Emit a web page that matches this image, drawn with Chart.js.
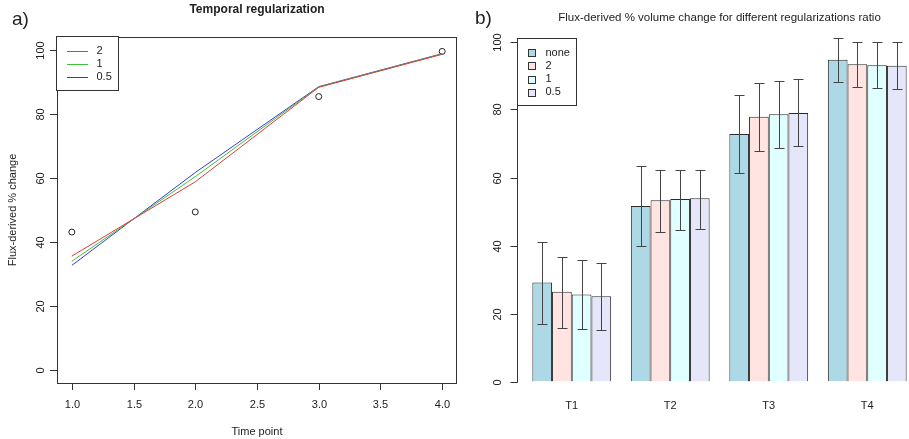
<!DOCTYPE html>
<html>
<head>
<meta charset="utf-8">
<script src="https://cdn.jsdelivr.net/npm/chart.js@4.4.0/dist/chart.umd.min.js"></script>
<style>
  html, body { margin: 0; padding: 0; background: #fff; overflow: hidden; width: 909px; height: 439px; }
  #wrapA { position: absolute; left: 0; top: 0; width: 462px; height: 439px; }
  #wrapB { position: absolute; left: 462px; top: 0; width: 460px; height: 439px; }
</style>
</head>
<body>
<div id="wrapA"><canvas id="chartA" width="462" height="439"></canvas></div>
<div id="wrapB"><canvas id="chartB" width="460" height="439"></canvas></div>
<script>
// ---------- Panel a) data ----------
const timePoints = [1, 2, 3, 4];
const observed = [43.1, 49.4, 85.4, 99.5];
const reg2 = [35.6, 58.8, 88.3, 98.6];
const reg1 = [34.0, 60.4, 88.4, 98.7];
const reg05 = [32.7, 61.7, 88.5, 98.8];
const leftXTicks = [1, 1.5, 2, 2.5, 3, 3.5, 4];
const leftXTickLabels = ['1.0', '1.5', '2.0', '2.5', '3.0', '3.5', '4.0'];
const leftYTicks = [0, 20, 40, 60, 80, 100];
const leftLegend = ['2', '1', '0.5'];

// ---------- Panel b) data ----------
const categories = ['T1', 'T2', 'T3', 'T4'];
const seriesNames = ['none', '2', '1', '0.5'];
const volNone = [29.1, 51.6, 72.8, 94.6];
const vol2 = [26.4, 53.3, 77.9, 93.3];
const vol1 = [25.6, 53.7, 78.6, 93.0];
const vol05 = [25.1, 53.9, 79.0, 92.9];
const lowNone = [16.9, 40.0, 61.3, 88.2];
const highNone = [40.9, 63.4, 84.3, 100.9];
const low2 = [15.8, 44.0, 67.9, 86.6];
const high2 = [36.7, 62.3, 87.9, 99.8];
const low1 = [15.5, 44.5, 68.8, 86.2];
const high1 = [35.7, 62.3, 88.5, 99.8];
const low05 = [15.2, 44.9, 69.2, 86.0];
const high05 = [34.8, 62.3, 88.9, 99.8];
const rightYTicks = [0, 20, 40, 60, 80, 100];

const FONT = '"Liberation Sans", Arial, Helvetica, sans-serif';
const INK = '#222';

function pts(xs, ys) { return xs.map((x, i) => ({ x: x, y: ys[i] })); }

function rotText(ctx, text, x, y) {
  ctx.save();
  ctx.translate(x, y);
  ctx.rotate(-Math.PI / 2);
  ctx.textAlign = 'center';
  ctx.textBaseline = 'middle';
  ctx.fillText(text, 0, 0);
  ctx.restore();
}

// ---------- Chart A ----------
const lineColors = ['#e23a3a', '#3cc23c', '#3a3ad0'];
const decorA = {
  id: 'decorA',
  afterDraw(chart) {
    const ctx = chart.ctx;
    const a = chart.chartArea;
    const xs = chart.scales.x, ys = chart.scales.y;
    ctx.save();
    ctx.strokeStyle = '#333';
    ctx.lineWidth = 1;
    // box
    ctx.strokeRect(Math.round(a.left) + 0.5, Math.round(a.top) + 0.5,
                   Math.round(a.right - a.left) - 1, Math.round(a.bottom - a.top));
    ctx.fillStyle = INK;
    ctx.font = '11px ' + FONT;
    // x ticks
    ctx.textAlign = 'center';
    ctx.textBaseline = 'middle';
    leftXTicks.forEach((v, i) => {
      const px = Math.round(xs.getPixelForValue(v)) + 0.5;
      ctx.beginPath(); ctx.moveTo(px, a.bottom); ctx.lineTo(px, a.bottom + 7); ctx.stroke();
      ctx.fillText(leftXTickLabels[i], px, 405);
    });
    // y ticks
    leftYTicks.forEach(v => {
      const py = Math.round(ys.getPixelForValue(v)) + 0.5;
      ctx.beginPath(); ctx.moveTo(a.left - 7, py); ctx.lineTo(a.left, py); ctx.stroke();
      rotText(ctx, String(v), 40.5, py);
    });
    // axis titles
    ctx.font = '11px ' + FONT;
    ctx.textAlign = 'center';
    ctx.fillText('Time point', (a.left + a.right) / 2, 432);
    rotText(ctx, 'Flux-derived % change', 13, (a.top + a.bottom) / 2);
    // title
    ctx.font = 'bold 12px ' + FONT;
    ctx.textAlign = 'center';
    ctx.textBaseline = 'middle';
    ctx.fillText('Temporal regularization', (a.left + a.right) / 2, 10);
    // panel label
    ctx.font = '19px ' + FONT;
    ctx.textAlign = 'left';
    ctx.fillText('a)', 12, 20);
    // legend
    ctx.fillStyle = '#fff';
    ctx.fillRect(57, 37, 62, 54);
    ctx.strokeStyle = '#333';
    ctx.strokeRect(56.5, 36.5, 62, 54);
    ctx.font = '11px ' + FONT;
    ctx.textBaseline = 'middle';
    leftLegend.forEach((lab, i) => {
      const y = 50.5 + i * 13.3;
      ctx.strokeStyle = lineColors[i];
      ctx.beginPath(); ctx.moveTo(67, Math.round(y) + 0.5); ctx.lineTo(88, Math.round(y) + 0.5); ctx.stroke();
      ctx.fillStyle = INK;
      ctx.fillText(lab, 96.5, y);
    });
    ctx.restore();
  }
};

new Chart(document.getElementById('chartA'), {
  type: 'line',
  data: {
    datasets: [
      { label: '2', data: pts(timePoints, reg2), borderColor: lineColors[0], borderWidth: 1, pointRadius: 0, tension: 0, fill: false },
      { label: '1', data: pts(timePoints, reg1), borderColor: lineColors[1], borderWidth: 1, pointRadius: 0, tension: 0, fill: false },
      { label: '0.5', data: pts(timePoints, reg05), borderColor: lineColors[2], borderWidth: 1, pointRadius: 0, tension: 0, fill: false },
      { label: 'observed', data: pts(timePoints, observed), showLine: false, pointRadius: 3, pointStyle: 'circle',
        pointBorderColor: '#222', pointBackgroundColor: 'rgba(0,0,0,0)', pointBorderWidth: 1, borderColor: '#222' }
    ]
  },
  options: {
    responsive: false, animation: false, devicePixelRatio: 1,
    layout: { padding: { left: 57, right: 2, top: 37, bottom: 56 } },
    scales: {
      x: { type: 'linear', min: 0.88, max: 4.12, display: false },
      y: { type: 'linear', min: -4, max: 104, display: false }
    },
    plugins: { legend: { display: false }, tooltip: { enabled: false } }
  },
  plugins: [decorA]
});

// ---------- Chart B ----------
const barColors = ['#add8e6', '#ffe4e1', '#e0ffff', '#e6e6fa'];
const barValues = [volNone, vol2, vol1, vol05];
const errLow = [lowNone, low2, low1, low05];
const errHigh = [highNone, high2, high1, high05];
const OFF = 462;

const decorB = {
  id: 'decorB',
  afterDatasetsDraw(chart) {
    const ctx = chart.ctx;
    const ys = chart.scales.y;
    ctx.save();
    ctx.strokeStyle = '#444';
    ctx.lineWidth = 1;
    barValues.forEach((vals, d) => {
      const meta = chart.getDatasetMeta(d);
      meta.data.forEach((bar, i) => {
        const x = Math.round(bar.x) + 0.5;
        const yl = Math.round(ys.getPixelForValue(errLow[d][i])) + 0.5;
        const yh = Math.round(ys.getPixelForValue(errHigh[d][i])) + 0.5;
        ctx.beginPath();
        ctx.moveTo(x, yl); ctx.lineTo(x, yh);
        ctx.moveTo(x - 5, yl); ctx.lineTo(x + 5, yl);
        ctx.moveTo(x - 5, yh); ctx.lineTo(x + 5, yh);
        ctx.stroke();
      });
    });
    ctx.restore();
  },
  afterDraw(chart) {
    const ctx = chart.ctx;
    const a = chart.chartArea;
    const xs = chart.scales.x, ys = chart.scales.y;
    ctx.save();
    ctx.strokeStyle = '#333';
    ctx.lineWidth = 1;
    const axX = 517.5 - OFF;
    // y axis
    ctx.beginPath();
    ctx.moveTo(axX, Math.round(ys.getPixelForValue(0)) + 0.5);
    ctx.lineTo(axX, Math.round(ys.getPixelForValue(100)) + 0.5);
    ctx.stroke();
    ctx.fillStyle = INK;
    ctx.font = '11px ' + FONT;
    rightYTicks.forEach(v => {
      const py = Math.round(ys.getPixelForValue(v)) + 0.5;
      ctx.beginPath(); ctx.moveTo(axX - 7, py); ctx.lineTo(axX, py); ctx.stroke();
      rotText(ctx, String(v), 498 - OFF, py);
    });
    // category labels
    ctx.textAlign = 'center';
    ctx.textBaseline = 'middle';
    categories.forEach((c, i) => {
      ctx.fillText(c, xs.getPixelForValue(i), 406);
    });
    // title
    ctx.font = '11.5px ' + FONT;
    ctx.fillText('Flux-derived % volume change for different regularizations ratio', 719.5 - OFF, 18);
    ctx.font = '19px ' + FONT;
    ctx.textAlign = 'left';
    ctx.fillText('b)', 475 - OFF, 19);
    // legend
    const lx = 517.5 - OFF, ly = 38.5;
    ctx.fillStyle = '#fff';
    ctx.fillRect(lx, ly, 59, 67);
    ctx.strokeStyle = '#333';
    ctx.strokeRect(lx, ly, 59, 67);
    ctx.font = '11px ' + FONT;
    ctx.textBaseline = 'middle';
    seriesNames.forEach((n, i) => {
      const y = 52.5 + i * 13.3;
      const sy = Math.round(y - 3.5) + 0.5;
      ctx.fillStyle = barColors[i];
      ctx.fillRect(528.5 - OFF, sy, 7, 7);
      ctx.strokeStyle = '#333';
      ctx.strokeRect(528.5 - OFF, sy, 7, 7);
      ctx.fillStyle = INK;
      ctx.fillText(n, 545.5 - OFF, y);
    });
    ctx.restore();
  }
};

new Chart(document.getElementById('chartB'), {
  type: 'bar',
  data: {
    labels: categories,
    datasets: seriesNames.map((n, d) => ({
      label: n,
      data: barValues[d],
      backgroundColor: barColors[d],
      borderColor: '#2a2a2a',
      borderWidth: 1,
      categoryPercentage: 0.8,
      barPercentage: 1.0
    }))
  },
  options: {
    responsive: false, animation: false, devicePixelRatio: 1,
    layout: { padding: { left: 60.5, right: 5.5, top: 41.5, bottom: 57.5 } },
    scales: {
      x: { type: 'category', offset: true, display: false },
      y: { type: 'linear', min: 0, max: 100, display: false }
    },
    plugins: { legend: { display: false }, tooltip: { enabled: false } }
  },
  plugins: [decorB]
});
</script>
</body>
</html>
